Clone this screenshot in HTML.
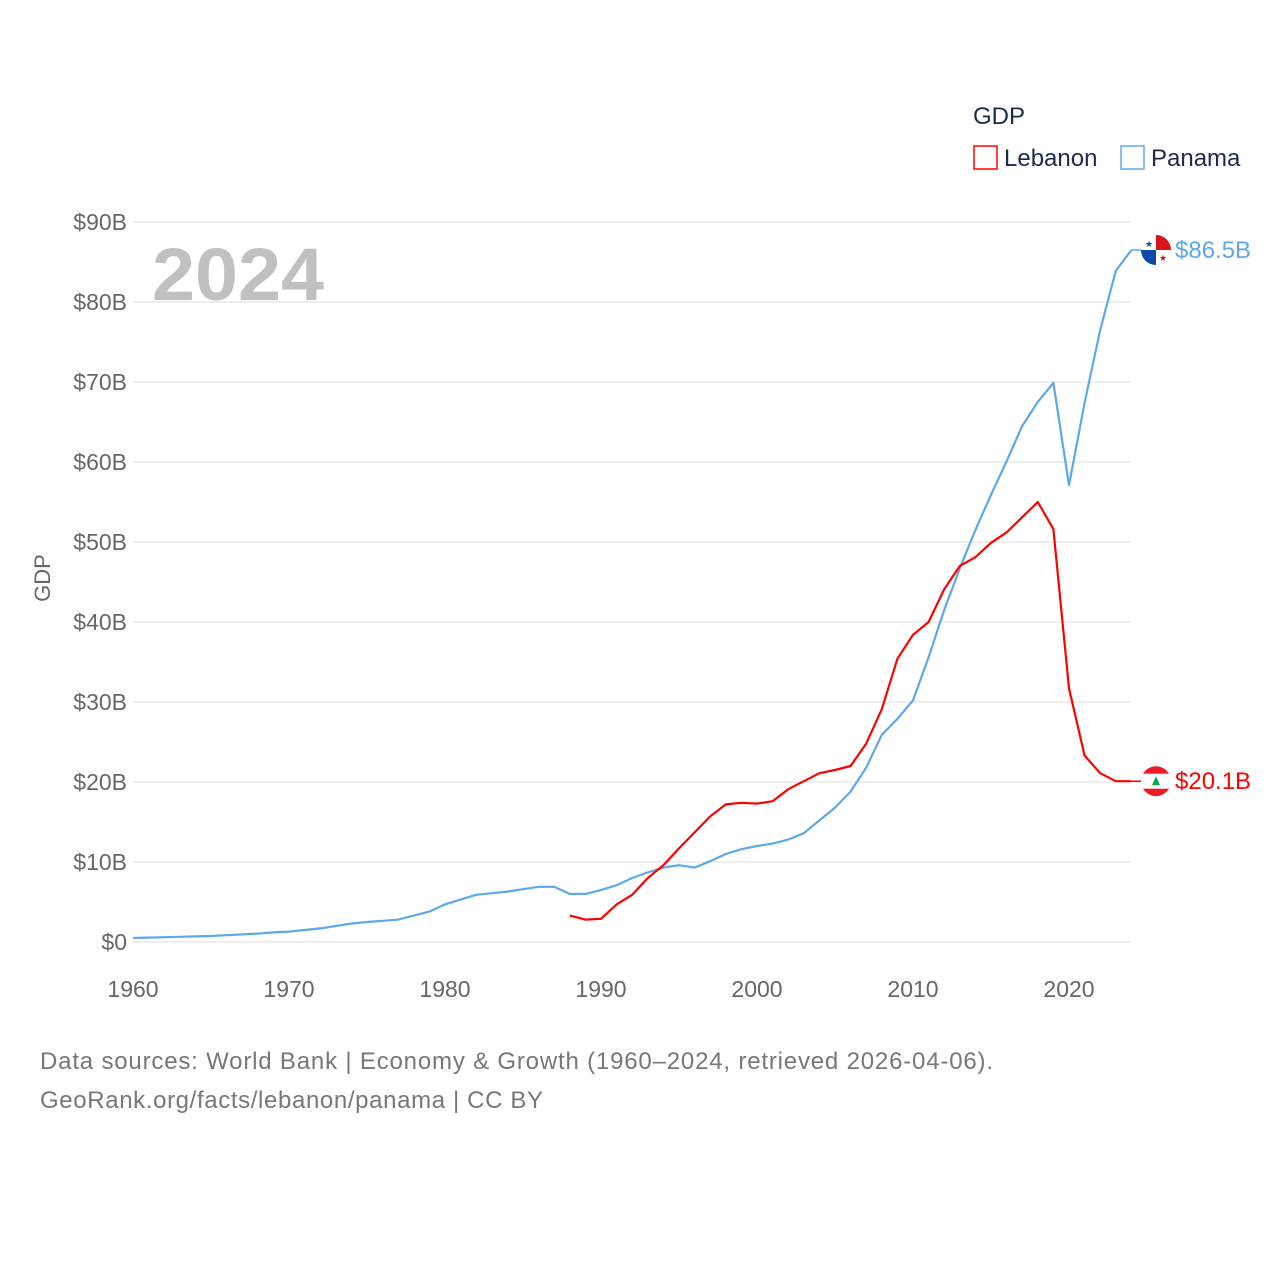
<!DOCTYPE html>
<html><head><meta charset="utf-8"><style>
body{margin:0;background:#fff;}
svg text{font-family:"Liberation Sans",sans-serif;}
</style></head><body>
<svg id="chart" width="1280" height="1280" xmlns="http://www.w3.org/2000/svg">
<g id="grid"></g>
<g id="yticks"></g>
<g id="xticks"></g>
<text x="152" y="300" font-size="74" font-weight="bold" fill="#c0c0c0" textLength="172" lengthAdjust="spacingAndGlyphs">2024</text>
<text transform="translate(50,578) rotate(-90)" text-anchor="middle" font-size="22" fill="#666">GDP</text>
<g id="series"></g>
<g>
<text x="973" y="124" font-size="24" fill="#1d2b4a">GDP</text>
<rect x="974" y="146" width="23" height="23" fill="none" stroke="#ff0000" stroke-width="1.5"/>
<text x="1004" y="166" font-size="24" fill="#1d2b4a">Lebanon</text>
<rect x="1121" y="146" width="23" height="23" fill="none" stroke="#5ea8ea" stroke-width="1.5"/>
<text x="1151" y="166" font-size="24" fill="#1d2b4a">Panama</text>
</g>
<text x="40" y="1069" font-size="24" fill="#777" textLength="953" lengthAdjust="spacing">Data sources: World Bank | Economy &amp; Growth (1960–2024, retrieved 2026-04-06).</text>
<text x="40" y="1108" font-size="24" fill="#777" textLength="503" lengthAdjust="spacing">GeoRank.org/facts/lebanon/panama | CC BY</text>
</svg>
<script>
const yTicks=[0,10,20,30,40,50,60,70,80,90];
const yTickLabels=["$0","$10B","$20B","$30B","$40B","$50B","$60B","$70B","$80B","$90B"];
const xTicks=[1960,1970,1980,1990,2000,2010,2020];
const panamaYears=[];for(let y=1960;y<=2024;y++)panamaYears.push(y);
const panamaValues=[0.5,0.55,0.6,0.65,0.7,0.75,0.85,0.95,1.05,1.2,1.3,1.5,1.7,2.0,2.3,2.5,2.65,2.8,3.3,3.8,4.7,5.3,5.9,6.1,6.3,6.6,6.9,6.9,6.0,6.0,6.5,7.1,8.0,8.7,9.3,9.6,9.3,10.1,11.0,11.6,12.0,12.3,12.8,13.6,15.2,16.8,18.8,21.8,25.9,27.9,30.2,35.6,41.5,46.7,51.5,55.9,60.1,64.5,67.5,69.9,57.1,67.4,76.5,83.9,86.5];
const lebanonYears=[];for(let y=1988;y<=2024;y++)lebanonYears.push(y);
const lebanonValues=[3.3,2.8,2.9,4.7,5.9,8.0,9.6,11.7,13.7,15.7,17.2,17.4,17.3,17.6,19.1,20.1,21.1,21.5,22.0,24.8,29.1,35.4,38.4,40.0,44.1,47.0,48.1,49.9,51.2,53.1,55.0,51.6,31.7,23.3,21.1,20.1,20.1];
const NS="http://www.w3.org/2000/svg";
const X=y=>133+(y-1960)*15.6;
const Y=v=>942-v*8;
function mk(tag,attrs,parent){const e=document.createElementNS(NS,tag);for(const k in attrs)e.setAttribute(k,attrs[k]);parent.appendChild(e);return e;}
const grid=document.getElementById('grid'),yt=document.getElementById('yticks'),xt=document.getElementById('xticks'),ser=document.getElementById('series');
yTicks.forEach((v,i)=>{
 const l=mk('line',{x1:133,x2:1131,y1:Y(v),y2:Y(v),stroke:'#e8e8e8','stroke-width':1.5},grid);
 
 
 const t=mk('text',{x:127,y:Y(v)+8,'text-anchor':'end','font-size':23,fill:'#666'},yt);
 t.textContent=yTickLabels[i];
 
 
});
xTicks.forEach(v=>{
 const t=mk('text',{x:X(v),y:997,'text-anchor':'middle','font-size':23,fill:'#666'},xt);
 t.textContent=v;
 
 
});
function line(years,vals,color,name){
 const d=years.map((y,i)=>(i?'L':'M')+X(y).toFixed(1)+','+Y(vals[i]).toFixed(1)).join('');
 const p=mk('path',{d:d,fill:'none',stroke:color,'stroke-width':2.2,'stroke-linejoin':'round'},ser);
 
 
}
line(panamaYears,panamaValues,'#5ea8ea','panama-line');
line(lebanonYears,lebanonValues,'#ff0000','lebanon-line');
const pv=panamaValues[panamaValues.length-1],lv=lebanonValues[lebanonValues.length-1];
const lx=X(2024);
const cl=mk('line',{x1:lx,x2:1148,y1:Y(lv),y2:Y(lv),stroke:'#ff0000','stroke-width':1.5},ser);


const cp=mk('line',{x1:lx,x2:1148,y1:Y(pv),y2:Y(pv),stroke:'#5ea8ea','stroke-width':1.5},ser);


const pg=mk('g',{},ser);


const pc=Y(pv);
mk('circle',{cx:1156,cy:pc,r:15,fill:'#fff'},pg);
mk('path',{d:`M1156,${pc} L1156,${pc-15} A15,15 0 0 1 1171,${pc} Z`,fill:'#da121a'},pg);
mk('path',{d:`M1156,${pc} L1156,${pc+15} A15,15 0 0 1 1141,${pc} Z`,fill:'#0a4aa8'},pg);
const s1=mk('text',{x:1149,y:pc-3,'text-anchor':'middle','font-size':9,fill:'#0a4aa8'},pg);s1.textContent='★';
const s2=mk('text',{x:1163,y:pc+11,'text-anchor':'middle','font-size':9,fill:'#da121a'},pg);s2.textContent='★';
const pt=mk('text',{x:1175,y:pc+8,'font-size':24,fill:'#5ea8ea'},ser);
pt.textContent='$'+pv.toFixed(1)+'B';


const lg=mk('g',{},ser);


const lc=Y(lv);
mk('circle',{cx:1156,cy:lc,r:15,fill:'#ed1c24'},lg);
mk('rect',{x:1141,y:lc-7.5,width:30,height:15,fill:'#fff'},lg);
mk('path',{d:`M1156,${lc-5} L1160,${lc+4} L1152,${lc+4} Z`,fill:'#00a651'},lg);
const lt=mk('text',{x:1175,y:lc+8,'font-size':24,fill:'#ff0000'},ser);
lt.textContent='$'+lv.toFixed(1)+'B';


</script>
</body></html>
